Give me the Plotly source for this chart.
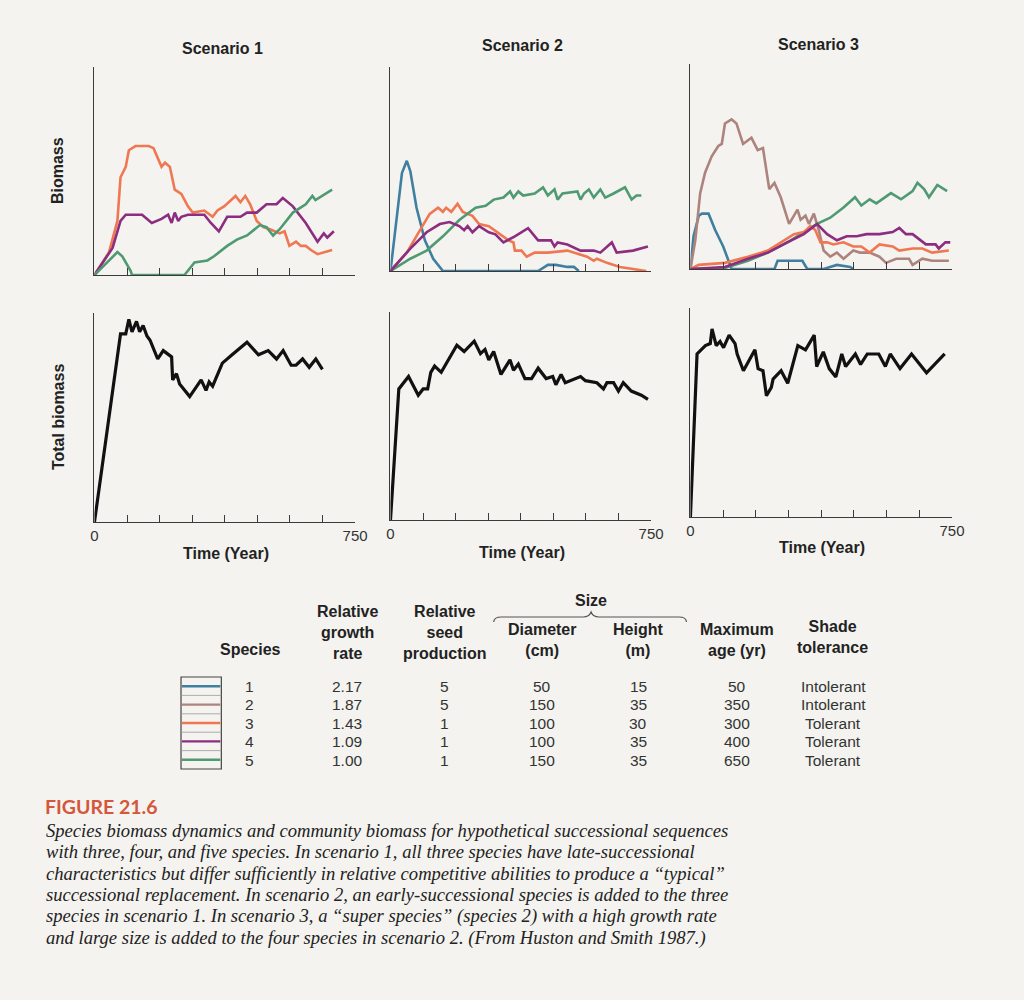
import numpy as np
import plotly.graph_objects as go

W, H = 1024, 1000

# ---------------- data (years, biomass in % of axis height) ----------------
scenario_titles = ["Scenario 1", "Scenario 2", "Scenario 3"]
tick_years = list(np.linspace(0, 750, 9))
tick_labels_bottom = ["0", "", "", "", "", "", "", "", "750"]

# Scenario 1
sc1_sp3_year = [0, 42, 66, 75, 90, 99, 118, 156, 170, 193, 203, 217, 231, 250, 269, 283, 316, 330, 340, 354, 373, 406, 420, 434, 448, 467, 486, 505, 533, 547, 561, 580, 594, 608, 623, 642, 665, 684]
sc1_sp3_bio = [0, 11, 26, 47, 52, 60, 62, 62, 61, 52, 54, 52, 41, 39, 33, 30, 31, 29, 28, 31, 33, 38, 35, 38, 34, 26, 23, 22, 20, 21, 14, 16, 14, 14, 12, 10, 11, 12]
sc1_sp4_year = [0, 52, 75, 90, 137, 165, 193, 212, 222, 231, 241, 250, 269, 316, 335, 358, 382, 420, 439, 467, 495, 524, 542, 571, 608, 642, 660, 670, 689]
sc1_sp4_bio = [0, 13, 26, 29, 29, 25, 27, 29, 25, 30, 26, 28, 29, 29, 25, 21, 28, 28, 30, 30, 34, 34, 37, 33, 25, 16, 20, 18, 21]
sc1_sp5_year = [0, 66, 80, 104, 108, 259, 288, 325, 344, 382, 410, 439, 476, 495, 514, 533, 571, 608, 627, 636, 684]
sc1_sp5_bio = [0, 11, 9, 2, 0, 0, 6, 7, 9, 14, 17, 19, 24, 23, 19, 22, 30, 34, 38, 36, 41]
sc1_total_year = [0, 75, 90, 99, 108, 121, 130, 140, 151, 160, 182, 198, 222, 225, 236, 245, 274, 307, 321, 330, 340, 368, 396, 439, 472, 500, 524, 543, 566, 580, 599, 618, 637, 656]
sc1_total_bio = [0, 90, 90, 97, 91, 96, 91, 94, 89, 87, 78, 82, 79, 68, 71, 66, 60, 68, 63, 67, 65, 76, 80, 86, 80, 82, 78, 82, 75, 75, 78, 74, 78, 73]

# Scenario 2
sc2_sp1_year = [0, 33, 47, 57, 75, 99, 123, 151, 425, 453, 476, 509, 528, 542]
sc2_sp1_bio = [0, 48, 54, 49, 31, 15, 6, 0, 0, 3, 3, 2, 2, 0]
sc2_sp3_year = [0, 47, 85, 113, 137, 151, 160, 175, 193, 208, 236, 255, 283, 307, 325, 340, 354, 358, 377, 392, 415, 453, 509, 547, 566, 585, 594, 623, 660, 698, 736]
sc2_sp3_bio = [0, 9, 20, 28, 31, 29, 31, 29, 33, 29, 27, 23, 22, 19, 17, 15, 14, 10, 10, 7, 9, 9, 10, 8, 7, 5, 6, 4, 2, 1, 0]
sc2_sp4_year = [0, 57, 104, 142, 170, 198, 212, 222, 236, 255, 283, 302, 325, 358, 396, 406, 425, 462, 472, 481, 509, 547, 585, 604, 637, 651, 698, 741]
sc2_sp4_bio = [0, 11, 19, 23, 24, 22, 20, 22, 19, 22, 19, 18, 14, 17, 21, 19, 15, 15, 12, 14, 13, 10, 10, 9, 14, 9, 10, 12]
sc2_sp5_year = [0, 57, 104, 151, 198, 245, 274, 297, 325, 344, 354, 368, 382, 415, 439, 453, 472, 481, 495, 538, 547, 557, 571, 585, 604, 618, 642, 675, 694, 708, 722]
sc2_sp5_bio = [0, 6, 10, 17, 25, 31, 32, 35, 36, 39, 36, 39, 37, 38, 41, 37, 40, 35, 38, 39, 35, 38, 40, 36, 40, 36, 38, 41, 35, 37, 37]
sc2_total_year = [0, 24, 52, 80, 94, 107, 116, 127, 146, 191, 212, 241, 259, 272, 283, 297, 318, 344, 354, 368, 387, 406, 425, 448, 467, 476, 491, 503, 547, 561, 594, 613, 623, 642, 656, 670, 693, 722, 741]
sc2_total_bio = [0, 63, 69, 60, 63, 63, 71, 74, 71, 84, 81, 86, 80, 82, 77, 81, 70, 77, 72, 75, 68, 68, 73, 68, 69, 65, 70, 66, 69, 67, 66, 63, 66, 66, 62, 66, 62, 60, 58]

# Scenario 3
sc3_sp1_year = [0, 9, 24, 33, 52, 71, 94, 108, 118, 241, 250, 321, 335, 382, 420, 458, 467]
sc3_sp1_bio = [0, 16, 26, 27, 27, 19, 11, 5, 0, 0, 4, 4, 0, 0, 2, 1, 0]
sc3_sp2_year = [0, 14, 28, 42, 61, 80, 90, 99, 118, 132, 151, 175, 193, 208, 226, 241, 259, 283, 307, 316, 330, 340, 354, 368, 382, 401, 420, 439, 467, 486, 514, 542, 561, 590, 627, 637, 665, 693, 741]
sc3_sp2_bio = [0, 14, 37, 47, 55, 60, 61, 71, 73, 71, 61, 64, 58, 59, 39, 42, 35, 22, 29, 24, 26, 22, 27, 19, 9, 6, 8, 5, 9, 8, 8, 6, 3, 5, 5, 2, 5, 4, 4]
sc3_sp3_year = [0, 24, 99, 165, 222, 259, 297, 325, 344, 358, 373, 392, 410, 439, 467, 490, 514, 542, 580, 599, 637, 665, 693, 741]
sc3_sp3_bio = [0, 2, 3, 6, 9, 13, 17, 18, 21, 19, 13, 13, 12, 13, 11, 11, 8, 12, 11, 9, 10, 10, 8, 9]
sc3_sp4_year = [0, 99, 165, 222, 278, 325, 363, 392, 420, 448, 477, 505, 542, 580, 599, 618, 637, 675, 703, 712, 731, 745]
sc3_sp4_bio = [0, 1, 5, 8, 13, 17, 22, 17, 14, 16, 16, 17, 17, 18, 20, 17, 17, 12, 12, 10, 13, 13]
sc3_sp5_year = [0, 99, 165, 222, 288, 335, 363, 401, 439, 472, 490, 514, 533, 575, 604, 637, 651, 670, 684, 708, 736]
sc3_sp5_bio = [0, 0.5, 4, 8, 14, 19, 22, 25, 30, 35, 31, 34, 32, 37, 34, 38, 42, 39, 35, 41, 38]
sc3_total_year = [0, 19, 43, 57, 62, 74, 85, 95, 111, 128, 134, 152, 185, 194, 208, 218, 232, 237, 260, 279, 308, 330, 355, 362, 381, 398, 417, 434, 445, 473, 488, 507, 540, 559, 573, 601, 634, 677, 729]
sc3_total_bio = [0, 78, 82, 83, 90, 82, 84, 81, 87, 83, 78, 70, 80, 71, 70, 58, 62, 66, 70, 64, 82, 80, 87, 72, 79, 71, 67, 78, 72, 78, 73, 78, 78, 72, 78, 71, 78, 69, 78]

# Table
species_ids = ["1", "2", "3", "4", "5"]
growth_rate = ["2.17", "1.87", "1.43", "1.09", "1.00"]
seed_production = ["5", "5", "1", "1", "1"]
diameter_cm = ["50", "150", "100", "100", "150"]
height_m = ["15", "35", "30", "35", "35"]
max_age_yr = ["50", "350", "300", "400", "650"]
shade_tolerance = ["Intolerant", "Intolerant", "Tolerant", "Tolerant", "Tolerant"]

caption_lines = [
    "Species biomass dynamics and community biomass for hypothetical successional sequences",
    "with three, four, and five species. In scenario 1, all three species have late-successional",
    "characteristics but differ sufficiently in relative competitive abilities to produce a \u201ctypical\u201d",
    "successional replacement. In scenario 2, an early-successional species is added to the three",
    "species in scenario 1. In scenario 3, a \u201csuper species\u201d (species 2) with a high growth rate",
    "and large size is added to the four species in scenario 2. (From Huston and Smith 1987.)",
]

# ---------------- styling ----------------
species_colors = {1: "#3f7f9f", 2: "#ad837d", 3: "#ef7752", 4: "#8c2d80", 5: "#4f9a72"}
BG = "#f4f3ef"
AX = "#3a3a3a"
SANS = "Liberation Sans, Arial, sans-serif"
SERIF = "Liberation Serif, Times New Roman, serif"

def px(x):
    return x / W

def py(y):
    return 1 - y / H

cols = [(92, 357), (393, 658), (698, 964)]
rows_top = [(67, 275), (67, 271), (64, 269)]
rows_bot = [(313, 522), (312, 520), (308, 517)]

species_series = [
    [(3, sc1_sp3_year, sc1_sp3_bio), (4, sc1_sp4_year, sc1_sp4_bio), (5, sc1_sp5_year, sc1_sp5_bio)],
    [(1, sc2_sp1_year, sc2_sp1_bio), (3, sc2_sp3_year, sc2_sp3_bio), (5, sc2_sp5_year, sc2_sp5_bio), (4, sc2_sp4_year, sc2_sp4_bio)],
    [(1, sc3_sp1_year, sc3_sp1_bio), (2, sc3_sp2_year, sc3_sp2_bio), (5, sc3_sp5_year, sc3_sp5_bio), (3, sc3_sp3_year, sc3_sp3_bio), (4, sc3_sp4_year, sc3_sp4_bio)],
]
totals = [(sc1_total_year, sc1_total_bio), (sc2_total_year, sc2_total_bio), (sc3_total_year, sc3_total_bio)]

fig = go.Figure()
layout = {}
ax_i = 0
for c in range(3):
    for r in range(2):
        ax_i += 1
        xa = "xaxis" if ax_i == 1 else f"xaxis{ax_i}"
        ya = "yaxis" if ax_i == 1 else f"yaxis{ax_i}"
        xr = "x" if ax_i == 1 else f"x{ax_i}"
        yr = "y" if ax_i == 1 else f"y{ax_i}"
        x0, x1 = cols[c]
        y0, y1 = (rows_top if r == 0 else rows_bot)[c]
        layout[xa] = dict(domain=[px(x0), px(x1)], range=[0, 750], anchor=yr,
                          showline=True, linecolor=AX, linewidth=1.3, showgrid=False, zeroline=False,
                          ticks="inside", ticklen=7, tickwidth=1.3, tickcolor=AX,
                          tickvals=tick_years, ticktext=tick_labels_bottom,
                          showticklabels=(r == 1), tickfont=dict(family=SANS, size=15, color="#333"))
        layout[ya] = dict(domain=[py(y1), py(y0)], range=[0, 100], anchor=xr,
                          showline=True, linecolor=AX, linewidth=1.3, showgrid=False, zeroline=False,
                          ticks="", showticklabels=False)
        if r == 0:
            for sp, yrs, bio in species_series[c]:
                fig.add_trace(go.Scatter(x=yrs, y=bio, mode="lines", xaxis=xr, yaxis=yr,
                                         line=dict(color=species_colors[sp], width=2.6),
                                         showlegend=False, hoverinfo="skip"))
        else:
            yrs, bio = totals[c]
            fig.add_trace(go.Scatter(x=yrs, y=bio, mode="lines", xaxis=xr, yaxis=yr,
                                     line=dict(color="#111", width=3.2),
                                     showlegend=False, hoverinfo="skip"))

annotations = []
def txt(x, y, s, size=15, bold=False, color="#222", family=SANS, xanchor="center", yanchor="middle", angle=0):
    annotations.append(dict(x=px(x), y=py(y), xref="paper", yref="paper", text=(f"<b>{s}</b>" if bold else s),
                            showarrow=False, font=dict(family=family, size=size, color=color),
                            xanchor=xanchor, yanchor=yanchor, textangle=angle))

title_pos = [(222, 48), (527, 45), (828, 44)]
for (x, y), t in zip(title_pos, scenario_titles):
    txt(x, y, t, size=16, bold=True)
txt(226, 553, "Time (Year)", size=16, bold=True)
txt(527, 552, "Time (Year)", size=16, bold=True)
txt(832, 547, "Time (Year)", size=16, bold=True)
txt(54, 171, "Biomass", size=16, bold=True, angle=-90)
txt(55, 417, "Total biomass", size=16, bold=True, angle=-90)

# table headers
hdr = 16
txt(251, 649, "Species", size=hdr, bold=True)
txt(349, 632, "Relative<br>growth<br>rate", size=hdr, bold=True)
txt(448, 632, "Relative<br>seed<br>production", size=hdr, bold=True)
txt(597, 600, "Size", size=hdr, bold=True)
txt(547, 640, "Diameter<br>(cm)", size=hdr, bold=True)
txt(645, 640, "Height<br>(m)", size=hdr, bold=True)
txt(745, 640, "Maximum<br>age (yr)", size=hdr, bold=True)
txt(842, 637, "Shade<br>tolerance", size=hdr, bold=True)

row_y = [686, 704.5, 723, 741.5, 760]
col_x = [250, 349, 448, 547, 645, 745, 843]
for i in range(5):
    vals = [species_ids[i], growth_rate[i], seed_production[i], diameter_cm[i], height_m[i], max_age_yr[i], shade_tolerance[i]]
    for x, v in zip(col_x, vals):
        txt(x, row_y[i], v, size=15.5, color="#333")

# caption
txt(40, 806, "FIGURE 21.6", size=19.5, bold=True, color="#d5573b", family="Lato, Open Sans, sans-serif", xanchor="left")
cap_y = [830, 851.5, 873, 894.5, 916, 937.5]
for y, line in zip(cap_y, caption_lines):
    txt(41, y, f"<i>{line}</i>", size=18.6, color="#222", family=SERIF, xanchor="left")

shapes = []
# brace over Size
bx0, bx1, bmid, by = 498, 694, 597, 617
path = (f"M {px(bx0)},{py(by+5)} Q {px(bx0)},{py(by)} {px(bx0+8)},{py(by)} "
        f"L {px(bmid-8)},{py(by)} Q {px(bmid-2)},{py(by)} {px(bmid)},{py(by-5)} "
        f"Q {px(bmid+2)},{py(by)} {px(bmid+8)},{py(by)} "
        f"L {px(bx1-8)},{py(by)} Q {px(bx1)},{py(by)} {px(bx1)},{py(by+5)}")
shapes.append(dict(type="path", path=path, xref="paper", yref="paper", line=dict(color="#555", width=1.2)))

# legend swatch box
lx0, lx1, ly0, ly1 = 180, 221, 677, 769
shapes.append(dict(type="rect", x0=px(lx0), x1=px(lx1), y0=py(ly1), y1=py(ly0), xref="paper", yref="paper",
                   line=dict(color="#444", width=1.2)))
rh = (ly1 - ly0) / 5
for k in range(1, 5):
    shapes.append(dict(type="line", x0=px(lx0), x1=px(lx1), y0=py(ly0 + k * rh), y1=py(ly0 + k * rh),
                       xref="paper", yref="paper", line=dict(color="#999", width=0.8)))
for k in range(5):
    yy = ly0 + (k + 0.5) * rh
    shapes.append(dict(type="line", x0=px(lx0 + 1), x1=px(lx1 - 1), y0=py(yy), y1=py(yy),
                       xref="paper", yref="paper", line=dict(color=species_colors[k + 1], width=2.4)))

fig.update_layout(width=W, height=H, margin=dict(l=0, r=0, t=0, b=0),
                  paper_bgcolor=BG, plot_bgcolor=BG, showlegend=False,
                  annotations=annotations, shapes=shapes, **layout)

fig.write_html("out.html", config={"displayModeBar": False},
               post_script="document.body.style.margin='0';document.body.style.background='%s';" % BG)
